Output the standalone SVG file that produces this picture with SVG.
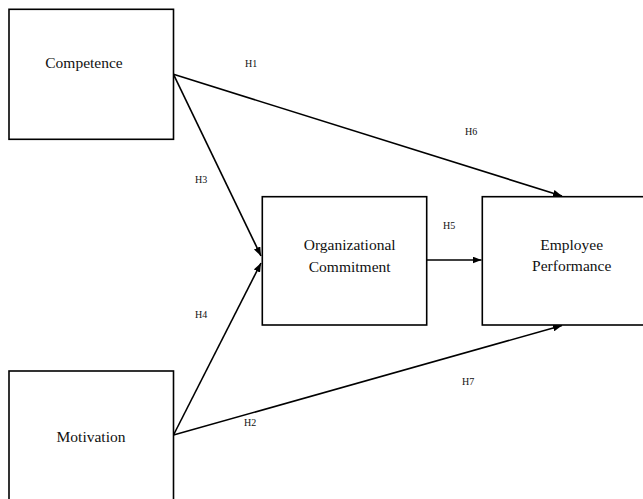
<svg xmlns="http://www.w3.org/2000/svg" width="643" height="499" viewBox="0 0 643 499">
<style>
.box{fill:#fff;stroke:#000;stroke-width:1.6}
.t{font-family:'Liberation Serif',serif;font-size:15.5px;fill:#111;text-anchor:middle}
.h{font-family:'Liberation Serif',serif;font-size:10px;fill:#111}
.c{stroke:#000;stroke-width:1.6;fill:none}
</style>
<defs>
<marker id="arr" markerWidth="9" markerHeight="7" refX="9" refY="3.5" orient="auto" markerUnits="userSpaceOnUse">
<path d="M0,0 L9,3.5 L0,7 Z" fill="#000"/>
</marker>
</defs>
<rect width="643" height="499" fill="#fff"/>
<g id="connectors">
<line class="c" x1="173.5" y1="74.3" x2="562" y2="196" marker-end="url(#arr)"/>
<line class="c" x1="173.5" y1="74.3" x2="261" y2="256" marker-end="url(#arr)"/>
<line class="c" x1="173.5" y1="435" x2="261" y2="263" marker-end="url(#arr)"/>
<line class="c" x1="173.5" y1="435" x2="562" y2="325.5" marker-end="url(#arr)"/>
<line class="c" x1="426.7" y1="260" x2="481.5" y2="260" marker-end="url(#arr)"/>
<text class="h" x="245" y="67">H1</text>
<text class="h" x="465" y="135">H6</text>
<text class="h" x="195" y="183">H3</text>
<text class="h" x="195" y="318">H4</text>
<text class="h" x="443" y="229">H5</text>
<text class="h" x="462" y="385">H7</text>
<text class="h" x="244" y="426">H2</text>
</g>
<g id="competence">
<rect class="box" x="9" y="9.3" width="164.5" height="130"/>
<text class="t" x="84" y="68">Competence</text>
</g>
<g id="motivation">
<rect class="box" x="9" y="371" width="164.5" height="140"/>
<text class="t" x="91" y="442">Motivation</text>
</g>
<g id="organizational-commitment">
<rect class="box" x="262.3" y="196.7" width="164.4" height="128.3"/>
<text class="t" x="349.7" y="250">Organizational</text>
<text class="t" x="349.7" y="271.5">Commitment</text>
</g>
<g id="employee-performance">
<rect class="box" x="482.3" y="196.7" width="170" height="128.3"/>
<text class="t" x="571.7" y="250">Employee</text>
<text class="t" x="571.7" y="270.5">Performance</text>
</g>
</svg>
